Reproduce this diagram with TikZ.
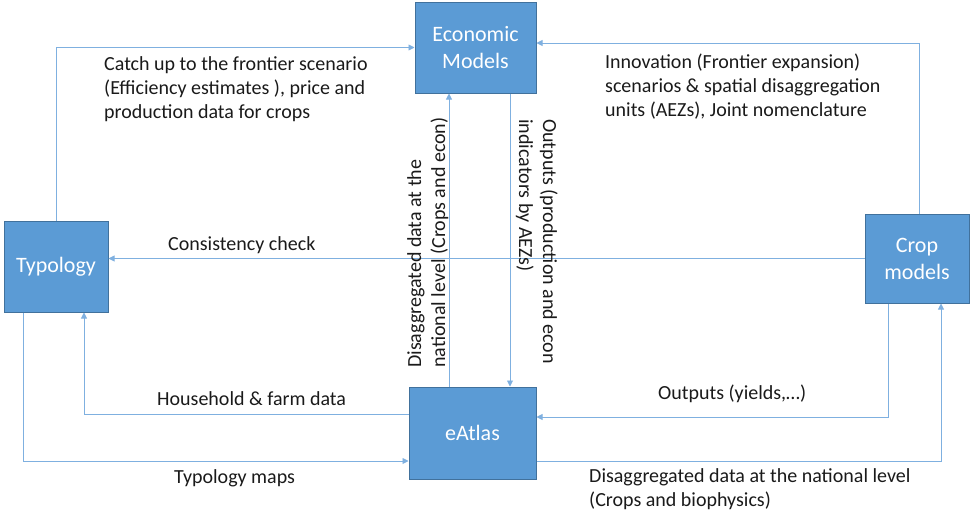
\documentclass[tikz,border=0pt]{standalone}
\usepackage{fontspec}
\setmainfont{Carlito}
\usetikzlibrary{arrows.meta,calc}
\definecolor{boxfill}{HTML}{5B9BD5}
\definecolor{boxline}{HTML}{41719C}
\definecolor{conn}{HTML}{7FB0E0}
\definecolor{txt}{HTML}{1A1A1A}
\tikzset{
  box/.style={draw=boxline, line width=1pt, fill=boxfill, text=white, align=center,
    font=\fontsize{22}{27}\selectfont, inner sep=0pt},
  arr/.style={draw=conn, line width=0.9pt, -{Triangle[length=6pt,width=6pt]}},
  lbl/.style={font=\fontsize{20}{24}\selectfont, inner sep=0pt, align=left, text=txt},
}
\begin{document}
\begin{tikzpicture}[x=1pt,y=-1pt]
\useasboundingbox (0,0) rectangle (970,517);
% boxes
\node[box, minimum width=121pt, minimum height=91pt] (econ) at (475.5,47.5) {Economic\\Models};
\node[box, minimum width=104pt, minimum height=91pt] (typ) at (56,266.5) {Typology};
\node[box, minimum width=104pt, minimum height=89pt] (crop) at (917,258.5) {Crop\\models};
\node[box, minimum width=127pt, minimum height=92pt] (eatlas) at (472.5,433) {eAtlas};
% helper coordinates
\coordinate (c2) at (919,43);
\coordinate (c4) at (510,0);
\coordinate (c5) at (449,0);
\coordinate (c6) at (84,414);
\coordinate (c7) at (23,461);
\coordinate (c8) at (888,417);
\coordinate (c9) at (941,461);
% connectors
\draw[arr] (typ.north) |- (econ.west);
\draw[arr] (c2 |- crop.north) -- (c2) -- (c2 -| econ.east);
\draw[arr] (crop.west) -- (crop.west -| typ.east);
\draw[arr] (c4 |- econ.south) -- (c4 |- eatlas.north);
\draw[arr] (c5 |- eatlas.north) -- (c5 |- econ.south);
\draw[arr] (c6 -| eatlas.west) -- (c6) -- (c6 |- typ.south);
\draw[arr] (c7 |- typ.south) -- (c7) -- (c7 -| eatlas.west);
\draw[arr] (c8 |- crop.south) -- (c8) -- (c8 -| eatlas.east);
\draw[arr] (c9 -| eatlas.east) -- (c9) -- (c9 |- crop.south);
% labels
\node[lbl, anchor=north west] (l1) at (104,56) {Catch up to the frontier scenario\\(Efficiency estimates ), price and\\production data for crops};
\node[lbl, anchor=north west] (l2) at (605,54) {Innovation (Frontier expansion)\\scenarios \& spatial disaggregation\\units (AEZs), Joint nomenclature};
\node[lbl, anchor=base west] (l3) at (168,250) {Consistency check};
\node[lbl, anchor=base west] (l4) at (157,405) {Household \& farm data};
\node[lbl, anchor=base west] (l5) at (174,483) {Typology maps};
\node[lbl, anchor=base west] (l6) at (658,399) {Outputs (yields,\dots)};
\node[lbl, anchor=north west] (l7) at (589,468) {Disaggregated data at the national level\\(Crops and biophysics)};
\node[lbl, anchor=north west, rotate=90] (l8) at (407,368) {Disaggregated data at the\\national level (Crops and econ)};
\node[lbl, anchor=north west, rotate=-90] (l9) at (558,119) {Outputs (production and econ\\indicators by AEZs)};
\end{tikzpicture}
\end{document}
